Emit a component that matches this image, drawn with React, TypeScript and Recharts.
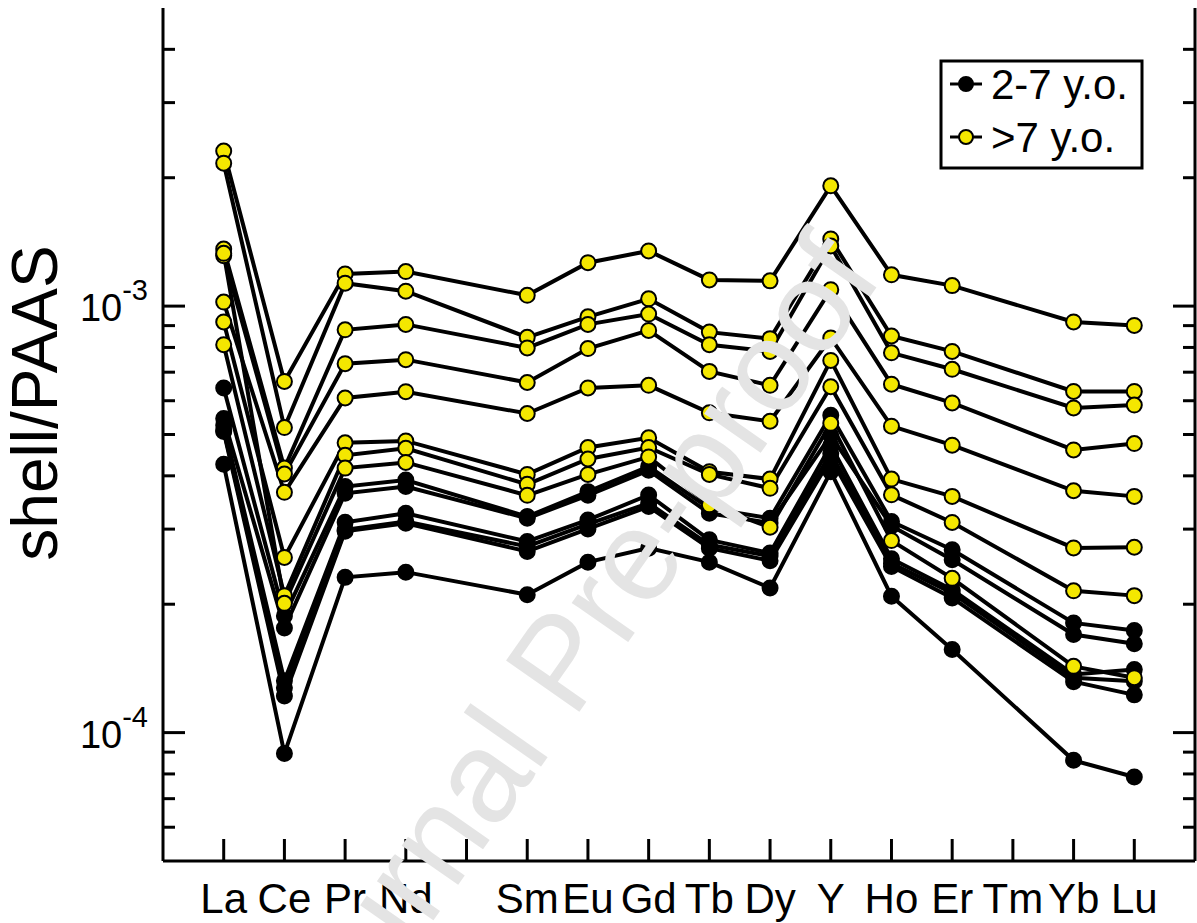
import React from 'react';
import { LineChart, Line, XAxis, YAxis } from 'recharts';

// ---------- data ----------
const elements = ['La', 'Ce', 'Pr', 'Nd', 'Sm', 'Eu', 'Gd', 'Tb', 'Dy', 'Y', 'Ho', 'Er', 'Yb', 'Lu'];
const elementPositions = [1, 2, 3, 4, 6, 7, 8, 9, 10, 11, 12, 13, 15, 16];
const tickPositions = [1, 2, 3, 4, 5, 6, 7, 8, 9, 10, 11, 12, 13, 14, 15, 16];
const tickLabels = ['La', 'Ce', 'Pr', 'Nd', '', 'Sm', 'Eu', 'Gd', 'Tb', 'Dy', 'Y', 'Ho', 'Er', 'Tm', 'Yb', 'Lu'];
const yTicks = [6e-5, 7e-5, 8e-5, 9e-5, 1e-4, 2e-4, 3e-4, 4e-4, 5e-4, 6e-4, 7e-4, 8e-4, 9e-4, 1e-3, 2e-3, 3e-3, 4e-3];
const yDomain = [5e-5, 5e-3];

// 2-7 y.o. (black)
const young1 = [6.43e-4, 1.878e-4, 3.775e-4, 3.91e-4, 3.21e-4, 3.673e-4, 4.204e-4, 3.357e-4, 3.18e-4, 5.548e-4, 3.126e-4, 2.683e-4, 1.808e-4, 1.735e-4];
const young2 = [5.45e-4, 1.76e-4, 3.64e-4, 3.775e-4, 3.18e-4, 3.6e-4, 4.12e-4, 3.268e-4, 3.1e-4, 4.973e-4, 3.05e-4, 2.542e-4, 1.698e-4, 1.615e-4];
const young3 = [5.258e-4, 1.323e-4, 3.114e-4, 3.268e-4, 2.807e-4, 3.152e-4, 3.607e-4, 2.831e-4, 2.636e-4, 4.714e-4, 2.556e-4, 2.163e-4, 1.369e-4, 1.406e-4];
const young4 = [5.118e-4, 1.274e-4, 2.987e-4, 3.126e-4, 2.732e-4, 3.082e-4, 3.45e-4, 2.756e-4, 2.594e-4, 4.515e-4, 2.496e-4, 2.125e-4, 1.345e-4, 1.32e-4];
const young5 = [5.08e-4, 1.219e-4, 2.967e-4, 3.097e-4, 2.66e-4, 3.003e-4, 3.389e-4, 2.707e-4, 2.529e-4, 4.395e-4, 2.453e-4, 2.069e-4, 1.316e-4, 1.226e-4];
const young6 = [4.257e-4, 0.893e-4, 2.312e-4, 2.378e-4, 2.106e-4, 2.51e-4, 2.707e-4, 2.51e-4, 2.183e-4, 4.09e-4, 2.088e-4, 1.566e-4, 0.861e-4, 0.787e-4];

// >7 y.o. (yellow)
const old1 = [2.31e-3, 6.66e-4, 1.19e-3, 1.205e-3, 1.06e-3, 1.264e-3, 1.347e-3, 1.152e-3, 1.146e-3, 1.914e-3, 1.184e-3, 1.117e-3, 9.18e-4, 9.01e-4];
const old2 = [2.163e-3, 5.19e-4, 1.132e-3, 1.084e-3, 8.45e-4, 9.44e-4, 1.04e-3, 8.69e-4, 8.39e-4, 1.437e-3, 8.51e-4, 7.83e-4, 6.31e-4, 6.31e-4];
const old3 = [1.361e-3, 4.17e-4, 8.8e-4, 9.06e-4, 7.98e-4, 9.06e-4, 9.58e-4, 8.12e-4, 7.83e-4, 1.384e-3, 7.77e-4, 7.11e-4, 5.77e-4, 5.86e-4];
const old4 = [1.313e-3, 4.04e-4, 7.33e-4, 7.49e-4, 6.62e-4, 7.95e-4, 8.77e-4, 7.03e-4, 6.52e-4, 1.093e-3, 6.56e-4, 5.93e-4, 4.6e-4, 4.76e-4];
const old5 = [1.022e-3, 3.66e-4, 6.09e-4, 6.3e-4, 5.6e-4, 6.43e-4, 6.52e-4, 5.62e-4, 5.37e-4, 8.42e-4, 5.23e-4, 4.72e-4, 3.69e-4, 3.58e-4];
const old6 = [9.18e-4, 2.575e-4, 4.78e-4, 4.83e-4, 4.03e-4, 4.66e-4, 4.91e-4, 4.09e-4, 3.93e-4, 7.46e-4, 3.93e-4, 3.58e-4, 2.71e-4, 2.72e-4];
const old7 = [8.12e-4, 2.095e-4, 4.47e-4, 4.64e-4, 3.82e-4, 4.38e-4, 4.66e-4, 4.03e-4, 3.74e-4, 6.47e-4, 3.61e-4, 3.11e-4, 2.15e-4, 2.095e-4];
const old8 = [1.33e-3, 2.01e-4, 4.17e-4, 4.3e-4, 3.6e-4, 4.03e-4, 4.43e-4, 3.42e-4, 3.03e-4, 5.31e-4, 2.82e-4, 2.3e-4, 1.43e-4, 1.345e-4];

const youngSeries = [young1, young2, young3, young4, young5, young6];
const oldSeries = [old1, old2, old3, old4, old5, old6, old7, old8];

const data = elements.map((el, i) => {
  const row: Record<string, number | string> = { el, x: elementPositions[i] };
  youngSeries.forEach((s, k) => { row['young' + (k + 1)] = s[i]; });
  oldSeries.forEach((s, k) => { row['old' + (k + 1)] = s[i]; });
  return row;
});

// ---------- style ----------
const W = 1197;
const H = 923;
const PLOT_LEFT = 163;
const PLOT_RIGHT = 1195;
const PLOT_TOP = 8;
const PLOT_BOTTOM = 861;
const FONT = '"Liberation Sans", Arial, Helvetica, sans-serif';
const YELLOW = '#F4E700';

const isMajor = (v: number) => Math.abs(Math.log10(v) - Math.round(Math.log10(v))) < 1e-6;

const XTick = (props: any) => {
  const { x, payload } = props;
  const label = tickLabels[payload.value - 1];
  return (
    <g>
      <line x1={x} x2={x} y1={PLOT_BOTTOM} y2={PLOT_BOTTOM - 22} stroke="#000" strokeWidth={3} />
      <text x={x} y={913} textAnchor="middle" fontSize={42} fontFamily={FONT} fill="#000">{label}</text>
    </g>
  );
};

const YTickLeft = (props: any) => {
  const { y, payload } = props;
  const v = payload.value;
  const major = isMajor(v);
  const exp = Math.round(Math.log10(v));
  return (
    <g>
      <line x1={PLOT_LEFT} x2={PLOT_LEFT + (major ? 22 : 12)} y1={y} y2={y} stroke="#000" strokeWidth={3} />
      {major && (
        <text x={148} y={y + 15} textAnchor="end" fontSize={38} fontFamily={FONT} fill="#000">
          10<tspan dy={-21} fontSize={29}>{String(exp)}</tspan>
        </text>
      )}
    </g>
  );
};

const YTickRight = (props: any) => {
  const { y, payload } = props;
  const major = isMajor(payload.value);
  return <line x1={PLOT_RIGHT} x2={PLOT_RIGHT - (major ? 22 : 12)} y1={y} y2={y} stroke="#000" strokeWidth={3} />;
};

const makeDot = (fill: string) => (p: any) => {
  const { cx, cy, index } = p;
  if (cx == null || cy == null) return <g key={index} />;
  return <circle key={index} cx={cx} cy={cy} r={7.5} fill={fill} stroke="#000" strokeWidth={2} />;
};

export default function App() {
  return (
    <div style={{ position: 'absolute', left: 0, top: 0, width: W, height: H, background: '#fff' }}>
      <LineChart width={W} height={H} data={data} margin={{ top: PLOT_TOP, right: 0, bottom: 0, left: 0 }}>
        <XAxis
          dataKey="x"
          type="number"
          domain={[0, 17]}
          ticks={tickPositions}
          interval={0}
          height={H - PLOT_BOTTOM}
          axisLine={{ stroke: '#000', strokeWidth: 3 }}
          tickLine={false}
          tick={<XTick />}
        />
        <XAxis
          xAxisId="top"
          orientation="top"
          dataKey="x"
          type="number"
          domain={[0, 17]}
          height={0}
          axisLine={{ stroke: '#000', strokeWidth: 3 }}
          tickLine={false}
          tick={false}
        />
        <YAxis
          scale="log"
          domain={yDomain}
          allowDataOverflow
          ticks={yTicks}
          interval={0}
          width={PLOT_LEFT}
          axisLine={{ stroke: '#000', strokeWidth: 3 }}
          tickLine={false}
          tick={<YTickLeft />}
        />
        <YAxis
          yAxisId="right"
          orientation="right"
          scale="log"
          domain={yDomain}
          allowDataOverflow
          ticks={yTicks}
          interval={0}
          width={W - PLOT_RIGHT}
          axisLine={{ stroke: '#000', strokeWidth: 3 }}
          tickLine={false}
          tick={<YTickRight />}
        />
        {youngSeries.map((_, k) => (
          <Line
            key={'y' + k}
            dataKey={'young' + (k + 1)}
            stroke="#000"
            strokeWidth={4}
            dot={makeDot('#000')}
            activeDot={false}
            isAnimationActive={false}
          />
        ))}
        {oldSeries.map((_, k) => (
          <Line
            key={'o' + k}
            dataKey={'old' + (k + 1)}
            stroke="#000"
            strokeWidth={4}
            dot={makeDot(YELLOW)}
            activeDot={false}
            isAnimationActive={false}
          />
        ))}
      </LineChart>
      <svg width={W} height={H} style={{ position: 'absolute', left: 0, top: 0, pointerEvents: 'none' }}>
        <text
          x={0}
          y={0}
          transform="translate(57,403) rotate(-90)"
          textAnchor="middle"
          fontSize={64}
          fontFamily={FONT}
          fill="#000"
        >
          shell/PAAS
        </text>
        <g>
          <rect x={941} y={61} width={201} height={107} fill="#fff" stroke="#000" strokeWidth={3} />
          <line x1={950} x2={982} y1={84} y2={84} stroke="#000" strokeWidth={3} />
          <circle cx={966} cy={84} r={7} fill="#000" stroke="#000" strokeWidth={2} />
          <text x={991} y={99} fontSize={42} fontFamily={FONT} fill="#000">2-7 y.o.</text>
          <line x1={950} x2={982} y1={137} y2={137} stroke="#000" strokeWidth={3} />
          <circle cx={966} cy={137} r={7} fill={YELLOW} stroke="#000" strokeWidth={2} />
          <text x={991} y={152} fontSize={42} fontFamily={FONT} fill="#000">&gt;7 y.o.</text>
        </g>
        <text
          x={596}
          y={688}
          textAnchor="middle"
          transform="rotate(-55 596 688)"
          fontSize={130}
          fontFamily={FONT}
          fill="#e4e4e4"
        >
          Journal Pre-proof
        </text>
      </svg>
    </div>
  );
}
